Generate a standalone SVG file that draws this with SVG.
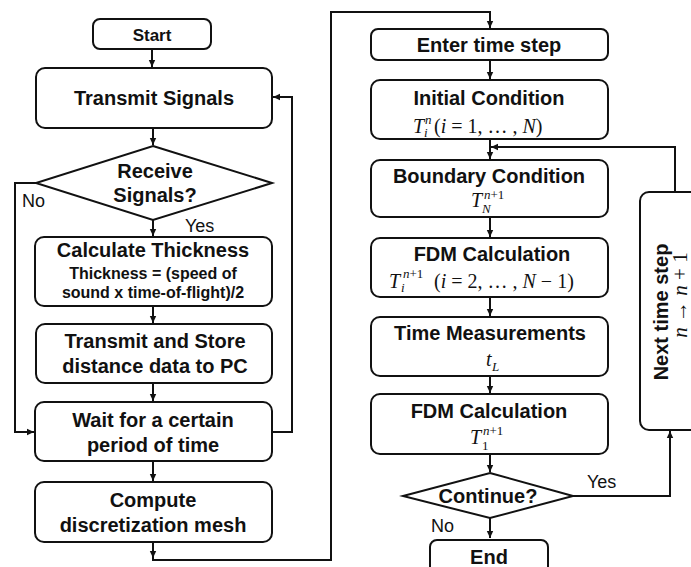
<svg xmlns="http://www.w3.org/2000/svg" width="691" height="567" viewBox="0 0 691 567">
<style>
.box{fill:#fff;stroke:#111;stroke-width:2}
.c{fill:none;stroke:#111;stroke-width:2}
.t{font-family:"Liberation Sans",Arial,sans-serif;font-weight:bold;font-size:20px;fill:#111;text-anchor:middle}
.s{font-family:"Liberation Sans",Arial,sans-serif;font-weight:bold;font-size:16px;fill:#111;text-anchor:middle}
.l{font-family:"Liberation Sans",Arial,sans-serif;font-size:18px;fill:#111}
.m{font-family:"Liberation Serif","Times New Roman",serif;font-size:20px;fill:#111}
.mi{font-style:italic}
.sm{font-size:13px}
</style>
<defs>
<marker id="ah" markerWidth="8" markerHeight="8" refX="7" refY="4" orient="auto" markerUnits="userSpaceOnUse">
<path d="M0,0.8 L7,4 L0,7.2 Z" fill="#111"/>
</marker>
</defs>
<rect width="691" height="567" fill="#fff"/>

<g id="connectors">
<path class="c" d="M152,49 V67" marker-end="url(#ah)"/>
<path class="c" d="M153,128 V145" marker-end="url(#ah)"/>
<path class="c" d="M153,220 V236" marker-end="url(#ah)"/>
<path class="c" d="M153,306 V323" marker-end="url(#ah)"/>
<path class="c" d="M153,383 V401" marker-end="url(#ah)"/>
<path class="c" d="M153,461 V481" marker-end="url(#ah)"/>
<path class="c" d="M36,183 H15 V432 H34" marker-end="url(#ah)"/>
<path class="c" d="M272,432 H292 V97 H273" marker-end="url(#ah)"/>
<path class="c" d="M153,542 V558" marker-end="url(#ah)"/>
<path class="c" d="M153,556 V560 H331 V12 H490 V28" marker-end="url(#ah)"/>
<path class="c" d="M490,60 V79" marker-end="url(#ah)"/>
<path class="c" d="M490,139 V159" marker-end="url(#ah)"/>
<path class="c" d="M675,192 V147 H491" marker-end="url(#ah)"/>
<path class="c" d="M490,217 V237" marker-end="url(#ah)"/>
<path class="c" d="M490,297 V316" marker-end="url(#ah)"/>
<path class="c" d="M490,376 V393" marker-end="url(#ah)"/>
<path class="c" d="M490,454 V472" marker-end="url(#ah)"/>
<path class="c" d="M573,496 H670 V431" marker-end="url(#ah)"/>
<path class="c" d="M490,518 V538" marker-end="url(#ah)"/>
<text class="l" x="22" y="207">No</text>
<text class="l" x="185" y="232">Yes</text>
<text class="l" x="587" y="488">Yes</text>
<text class="l" x="431" y="532">No</text>
</g>

<g id="start">
<rect class="box" x="93" y="19" width="118" height="30" rx="7"/>
<text class="t" x="152" y="41" style="font-size:17px">Start</text>
</g>

<g id="transmit">
<rect class="box" x="36" y="68" width="236" height="60" rx="9"/>
<text class="t" x="154" y="105">Transmit Signals</text>
</g>

<g id="receive">
<path class="box" d="M153,146 L272,183 L153,220 L36,183 Z"/>
<text class="t" x="155" y="178">Receive</text>
<text class="t" x="155" y="202">Signals?</text>
</g>

<g id="calc">
<rect class="box" x="35" y="237" width="237" height="69" rx="9"/>
<text class="t" x="153" y="257">Calculate Thickness</text>
<text class="s" x="153" y="279">Thickness = (speed of</text>
<text class="s" x="153" y="298">sound x time-of-flight)/2</text>
</g>

<g id="store">
<rect class="box" x="36" y="324" width="236" height="59" rx="9"/>
<text class="t" x="155" y="348">Transmit and Store</text>
<text class="t" x="155" y="373">distance data to PC</text>
</g>

<g id="wait">
<rect class="box" x="35" y="402" width="237" height="59" rx="9"/>
<text class="t" x="153" y="427">Wait for a certain</text>
<text class="t" x="153" y="452">period of time</text>
</g>

<g id="compute">
<rect class="box" x="35" y="482" width="237" height="60" rx="9"/>
<text class="t" x="153" y="507">Compute</text>
<text class="t" x="153" y="532">discretization mesh</text>
</g>

<g id="enter">
<rect class="box" x="371" y="29" width="237" height="31" rx="7"/>
<text class="t" x="489" y="52">Enter time step</text>
</g>

<g id="initial">
<rect class="box" x="371" y="80" width="237" height="59" rx="9"/>
<text class="t" x="489" y="105">Initial Condition</text>
<text class="m mi" x="413" y="133">T</text>
<text class="m mi sm" x="425" y="124">n</text>
<text class="m mi sm" x="424" y="137">i</text>
<text class="m" x="434" y="133">(<tspan class="mi">i</tspan> = 1, … , <tspan class="mi">N</tspan>)</text>
</g>

<g id="boundary">
<rect class="box" x="371" y="160" width="237" height="57" rx="9"/>
<text class="t" x="489" y="183">Boundary Condition</text>
<text class="m mi" x="471" y="207">T</text>
<text class="m sm" x="484" y="199"><tspan class="mi">n</tspan>+1</text>
<text class="m mi sm" x="482" y="213">N</text>
</g>

<g id="fdm1">
<rect class="box" x="371" y="238" width="237" height="59" rx="9"/>
<text class="t" x="492" y="261">FDM Calculation</text>
<text class="m mi" x="389" y="288">T</text>
<text class="m sm" x="403" y="278"><tspan class="mi">n</tspan>+1</text>
<text class="m mi sm" x="401" y="292">i</text>
<text class="m" x="434" y="288">(<tspan class="mi">i</tspan> = 2, … , <tspan class="mi">N</tspan> − 1)</text>
</g>

<g id="time">
<rect class="box" x="371" y="317" width="237" height="59" rx="9"/>
<text class="t" x="490" y="340">Time Measurements</text>
<text class="m mi" x="486" y="366">t</text>
<text class="m mi sm" x="492" y="371">L</text>
</g>

<g id="fdm2">
<rect class="box" x="371" y="394" width="237" height="60" rx="9"/>
<text class="t" x="489" y="418">FDM Calculation</text>
<text class="m mi" x="470" y="444">T</text>
<text class="m sm" x="483" y="435"><tspan class="mi">n</tspan>+1</text>
<text class="m sm" x="482" y="450">1</text>
</g>

<g id="continue">
<path class="box" d="M490,473 L573,496 L490,518 L403,496 Z"/>
<text class="t" x="488" y="503">Continue?</text>
</g>

<g id="end">
<rect class="box" x="430" y="540" width="118" height="40" rx="7"/>
<text class="t" x="489" y="564">End</text>
</g>

<g id="next">
<rect class="box" x="640" y="192" width="70" height="238" rx="9"/>
<text class="t" transform="translate(668,312) rotate(-90)">Next time step</text>
<text class="m" transform="translate(687,295) rotate(-90)" text-anchor="middle" style="font-size:21px"><tspan class="mi">n</tspan> → <tspan class="mi">n</tspan> + 1</text>
</g>
</svg>
